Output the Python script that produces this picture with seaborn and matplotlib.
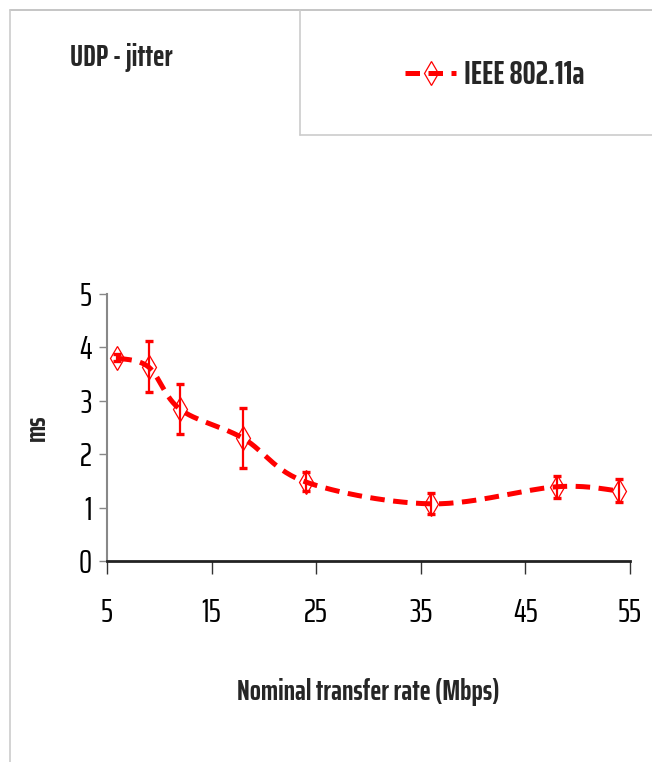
import numpy as np
import pandas as pd
import matplotlib
matplotlib.use("Agg")
import matplotlib.pyplot as plt
from matplotlib.lines import Line2D
import seaborn as sns

rate = [6, 9, 12, 18, 24, 36, 48, 54]
jitter = [3.80, 3.63, 2.84, 2.30, 1.48, 1.07, 1.39, 1.31]
err_low = [3.74, 3.17, 2.38, 1.74, 1.31, 0.88, 1.18, 1.10]
err_high = [3.88, 4.12, 3.31, 2.86, 1.67, 1.28, 1.59, 1.53]
series = "IEEE 802.11a"
title = "UDP - jitter"
xlabel = "Nominal transfer rate (Mbps)"
ylabel = "ms"
xticks = [5, 15, 25, 35, 45, 55]
yticks = [0, 1, 2, 3, 4, 5]

sns.set_style("white")
plt.rcParams['font.family'] = ['Saira ExtraCondensed', 'DejaVu Sans']

RED = "#ff0000"
FS = 21
TFS = 24
DASH = [2.9, 1.7]


def smooth(xs, ys, n=30):
    # Catmull-Rom style curve through the data points (Excel "smoothed line")
    x = np.asarray(xs, float); y = np.asarray(ys, float)
    px = np.concatenate([[x[0]], x, [x[-1]]])
    py = np.concatenate([[y[0]], y, [y[-1]]])
    ox, oy = [], []
    t = np.linspace(0, 1, n)
    for i in range(1, len(px) - 2):
        p0x, p1x, p2x, p3x = px[i-1:i+3]
        p0y, p1y, p2y, p3y = py[i-1:i+3]
        k = 1 / 6
        c1x, c1y = p1x + (p2x - p0x) * k, p1y + (p2y - p0y) * k
        c2x, c2y = p2x - (p3x - p1x) * k, p2y - (p3y - p1y) * k
        bx = (1-t)**3*p1x + 3*(1-t)**2*t*c1x + 3*(1-t)*t**2*c2x + t**3*p2x
        by = (1-t)**3*p1y + 3*(1-t)**2*t*c1y + 3*(1-t)*t**2*c2y + t**3*p2y
        ox.extend(bx); oy.extend(by)
    return np.array(ox), np.array(oy)


df = pd.DataFrame({"rate": rate, "jitter": jitter, "lo": err_low, "hi": err_high})
sx, sy = smooth(rate, jitter)
curve = pd.DataFrame({"x": sx, "y": sy})

fig = plt.figure(figsize=(6.52, 7.62), dpi=100)
ax = fig.add_axes([0.164, 0.2638, 0.802, 0.3504])

sns.lineplot(data=curve, x="x", y="y", ax=ax, color=RED, linewidth=3.6,
             sort=False, estimator=None, legend=False)
ax.lines[-1].set_dashes(DASH)

ax.errorbar(df["rate"], df["jitter"],
            yerr=[df["jitter"] - df["lo"], df["hi"] - df["jitter"]],
            fmt="none", ecolor=RED, elinewidth=1.6, capsize=3, capthick=2.4)
ax.plot(df["rate"], df["jitter"], linestyle="none", marker="d",
        markersize=12.5, markerfacecolor="none", markeredgecolor=RED,
        markeredgewidth=0.9)

ax.set_xlim(5, 55)
ax.set_ylim(0, 5)
ax.set_xticks(xticks)
ax.set_yticks(yticks)
ax.tick_params(axis="x", which="both", direction="out", length=9.5, width=1.0,
               colors="#333333", labelcolor="black", labelsize=TFS, pad=17, bottom=True)
ax.tick_params(axis="y", which="both", direction="out", length=6, width=1.0,
               colors="#888888", labelcolor="black", labelsize=TFS, pad=5, left=True)
for lab in ax.get_xticklabels() + ax.get_yticklabels():
    lab.set_fontweight("normal")
for s in ["top", "right"]:
    ax.spines[s].set_visible(False)
ax.spines["left"].set_color("#888888")
ax.spines["left"].set_linewidth(1.5)
ax.spines["bottom"].set_color("#222222")
ax.spines["bottom"].set_linewidth(2)
ax.set_xlabel(xlabel, fontsize=FS, fontweight="bold", labelpad=36)
ax.set_ylabel(ylabel, fontsize=FS, fontweight="bold", labelpad=20)

# frame lines and legend box
fig.add_artist(Line2D([10/652, 1], [1-10/762, 1-10/762], color="#bbbbbb", lw=1.2))
fig.add_artist(Line2D([10/652, 10/652], [0, 1-10/762], color="#cccccc", lw=1.2))
fig.add_artist(Line2D([300/652, 300/652], [1-135/762, 1-10/762], color="#cccccc", lw=1.2))
fig.add_artist(Line2D([300/652, 1], [1-135/762, 1-135/762], color="#cccccc", lw=1.2))

fig.text(70/652, 1-57/762, title, fontsize=22, fontweight="bold", va="center", ha="left")

handle = Line2D([], [], color=RED, linewidth=3.6, dashes=DASH, marker="d",
                markersize=12.5, markerfacecolor="none", markeredgecolor=RED,
                markeredgewidth=0.9)
fig.legend([handle], [series], loc="center left", bbox_to_anchor=(376/652, 1-75/762),
           frameon=False, handlelength=1.55, handletextpad=0.25,
           prop={"weight": "bold", "size": 23.5})

fig.savefig("out.png", dpi=100)
